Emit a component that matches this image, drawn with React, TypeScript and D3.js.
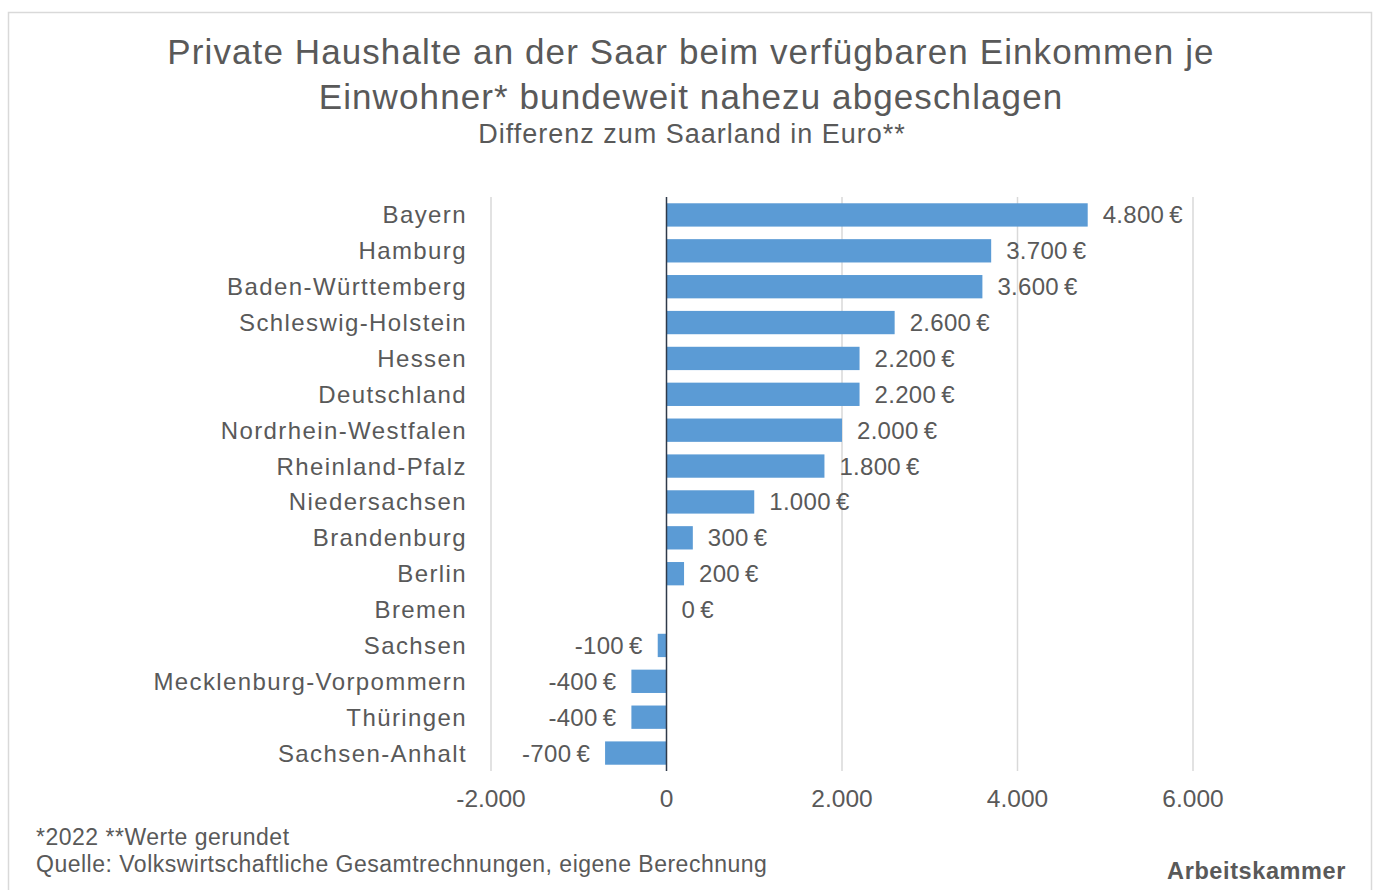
import React from "react";
import * as d3 from "d3";

const categories = [
  "Bayern", "Hamburg", "Baden-Württemberg", "Schleswig-Holstein", "Hessen",
  "Deutschland", "Nordrhein-Westfalen", "Rheinland-Pfalz", "Niedersachsen",
  "Brandenburg", "Berlin", "Bremen", "Sachsen", "Mecklenburg-Vorpommern",
  "Thüringen", "Sachsen-Anhalt",
];
const values = [4800, 3700, 3600, 2600, 2200, 2200, 2000, 1800, 1000, 300, 200, 0, -100, -400, -400, -700];
const tickValues = [-2000, 0, 2000, 4000, 6000];
const titleLines = [
  "Private Haushalte an der Saar beim verfügbaren Einkommen je",
  "Einwohner* bundeweit nahezu abgeschlagen",
];
const subtitle = "Differenz zum Saarland in Euro**";
const footnotes = ["*2022 **Werte gerundet", "Quelle: Volkswirtschaftliche Gesamtrechnungen, eigene Berechnung"];
const brand = "Arbeitskammer";

const W = 1378;
const H = 890;
const FONT = "'Liberation Sans', Arial, sans-serif";
const TEXT = "#595959";

const fmtDE = (v: number) => {
  const s = Math.abs(v).toString().replace(/\B(?=(\d{3})+(?!\d))/g, ".");
  return (v < 0 ? "-" : "") + s;
};

export default function App() {
  const x = d3.scaleLinear().domain([-2000, 6000]).range([491, 1193]);
  const y = d3.scaleBand<string>().domain(categories).range([197, 771]).paddingInner(0.35).paddingOuter(0.175);
  const bw = y.bandwidth();

  return (
    <svg width={W} height={H} style={{ position: "absolute", left: 0, top: 0, background: "#fff" }} fontFamily={FONT}>
      <rect x={8.5} y={12.5} width={1363} height={H} fill="#fff" stroke="#d9d9d9" strokeWidth={1.5} />
      {titleLines.map((t, i) => (
        <text key={i} x={691} y={64 + i * 45} textAnchor="middle" fontSize={35} letterSpacing={1.1} fill={TEXT}>{t}</text>
      ))}
      <text x={692} y={143} textAnchor="middle" fontSize={27} letterSpacing={1} fill={TEXT}>{subtitle}</text>

      {tickValues.filter((t) => t !== 0).map((t) => (
        <line key={t} x1={x(t)} x2={x(t)} y1={197} y2={771} stroke="#d9d9d9" strokeWidth={1.5} />
      ))}
      {tickValues.map((t) => (
        <text key={"t" + t} x={x(t)} y={807} textAnchor="middle" fontSize={24.5} fill={TEXT}>{fmtDE(t)}</text>
      ))}

      {categories.map((c, i) => {
        const v = values[i];
        const yc = (y(c) as number) + bw / 2;
        const x0 = x(Math.min(0, v));
        const x1 = x(Math.max(0, v));
        return (
          <g key={c}>
            <text x={467} y={yc + 8.5} textAnchor="end" fontSize={24} letterSpacing={1.4} fill={TEXT}>{c}</text>
            {v !== 0 && <rect x={x0} y={y(c)} width={x1 - x0} height={bw} fill="#5b9bd5" />}
            <text
              x={v >= 0 ? x(v) + 15 : x(v) - 15}
              y={yc + 8.5}
              textAnchor={v >= 0 ? "start" : "end"}
              fontSize={24}
              letterSpacing={0.3}
              fill={TEXT}
            >
              {fmtDE(v) + "\u2009€"}
            </text>
          </g>
        );
      })}
      <line x1={x(0)} x2={x(0)} y1={197} y2={771} stroke="#2f3a4a" strokeWidth={1.5} />

      {footnotes.map((f, i) => (
        <text key={i} x={36} y={845 + i * 27} fontSize={23} letterSpacing={0.5} fill={TEXT}>{f}</text>
      ))}
      <text x={1346} y={879} textAnchor="end" fontSize={23.5} letterSpacing={0.6} fontWeight="bold" fill={TEXT}>{brand}</text>
    </svg>
  );
}
